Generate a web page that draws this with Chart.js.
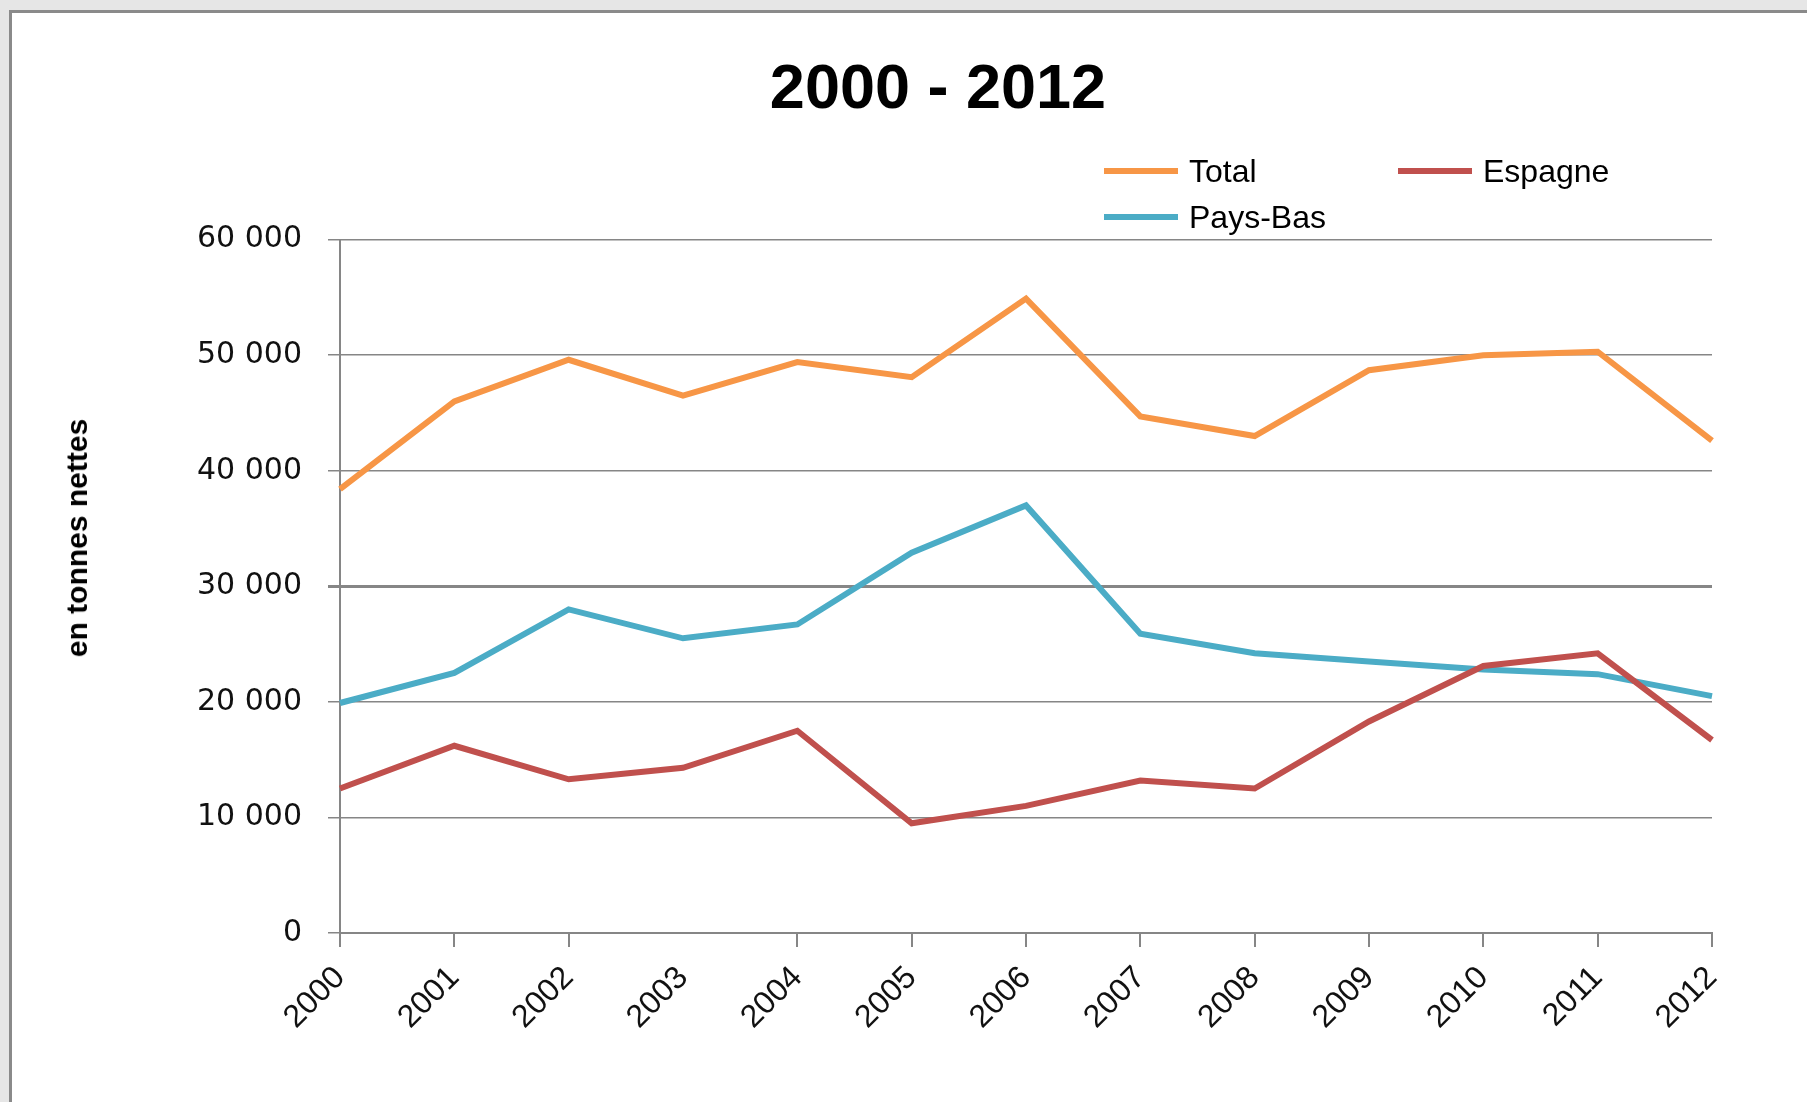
<!DOCTYPE html>
<html>
<head>
<meta charset="utf-8">
<script src="https://cdn.jsdelivr.net/npm/chart.js@4/dist/chart.umd.min.js"></script>
<style>
  html, body { margin: 0; padding: 0; }
  body { width: 1807px; height: 1102px; background: #e6e6e6; position: relative; overflow: hidden; }
  #panel { position: absolute; left: 9px; top: 10px; right: -5px; bottom: -5px; background: #fff;
           border-left: 3px solid #8a8a8a; border-top: 3px solid #8a8a8a; }
  #wrap { position: absolute; left: 0; top: 0; width: 1807px; height: 1102px; }
  #legend { position: absolute; left: 1104px; top: 150px; display: grid;
            grid-template-columns: 294px 220px; row-gap: 4px;
            font-family: "Liberation Sans", Arial, sans-serif; font-size: 32px; color: #000; }
  .item { display: flex; align-items: center; height: 42px; }
  .swatch { width: 74px; height: 6px; margin-right: 11px; }
  #ytitle { position: absolute; left: 77px; top: 538px; transform: translate(-50%, -50%) rotate(-90deg);
            white-space: nowrap; font-family: "Liberation Sans", Arial, sans-serif; font-weight: bold;
            font-size: 30px; color: #000; }
</style>
</head>
<body>
<div id="panel"></div>
<div id="wrap"><canvas id="chart" width="1807" height="1102"></canvas></div>
<div id="legend"></div>
<div id="ytitle">en tonnes nettes</div>
<script>
// data
const years = ['2000', '2001', '2002', '2003', '2004', '2005', '2006', '2007', '2008', '2009', '2010', '2011', '2012'];
const total = [38400, 46000, 49600, 46500, 49400, 48100, 54900, 44700, 43000, 48700, 50000, 50300, 42600];
const espagne = [12500, 16200, 13300, 14300, 17500, 9500, 11000, 13200, 12500, 18300, 23100, 24200, 16700];
const paysBas = [19900, 22500, 28000, 25500, 26700, 32900, 37000, 25900, 24200, 23500, 22800, 22400, 20500];
const seriesNames = ['Total', 'Espagne', 'Pays-Bas'];
const seriesColors = ['#F79646', '#C0504D', '#4BACC6'];

const gridColor = '#868686';

function fmt(v) {
  return String(v).replace(/\B(?=(\d{3})+(?!\d))/g, ' ');
}

const datasets = [total, espagne, paysBas].map((d, i) => ({
  label: seriesNames[i],
  data: d,
  borderColor: seriesColors[i],
  backgroundColor: seriesColors[i],
  borderWidth: 6,
  pointRadius: 0,
  tension: 0,
  fill: false
}));

// html legend, 2 columns like the original
const legendEl = document.getElementById('legend');
datasets.forEach(ds => {
  const it = document.createElement('div');
  it.className = 'item';
  it.innerHTML = '<span class="swatch" style="background:' + ds.borderColor + '"></span>' + ds.label;
  legendEl.appendChild(it);
});

const ctx = document.getElementById('chart').getContext('2d');
new Chart(ctx, {
  type: 'line',
  data: { labels: years, datasets: datasets },
  options: {
    responsive: false,
    animation: false,
    layout: { padding: { left: 164, right: 95, top: 0, bottom: 49 } },
    plugins: {
      legend: { display: false },
      tooltip: { enabled: false },
      title: {
        display: true,
        text: '2000 - 2012',
        color: '#000',
        font: { family: '"Liberation Sans", Arial, sans-serif', size: 63, weight: 'bold', lineHeight: 1.2 },
        padding: { top: 53, bottom: 111 }
      }
    },
    scales: {
      x: {
        offset: false,
        grid: {
          drawOnChartArea: false,
          drawTicks: true,
          tickLength: 14,
          lineWidth: 2,
          tickColor: c => (c.index === 3 ? 'rgba(0,0,0,0)' : gridColor)
        },
        border: { color: gridColor, width: 2 },
        ticks: {
          color: '#111',
          minRotation: 45,
          maxRotation: 45,
          padding: 12,
          autoSkip: false,
          font: { family: '"Liberation Sans", Arial, sans-serif', size: 32 }
        },
        afterFit: s => { s.height = 120; }
      },
      y: {
        min: 0,
        max: 60000,
        grid: {
          color: gridColor,
          lineWidth: c => (c.tick && c.tick.value === 30000 ? 3 : 1.5),
          tickLength: 12
        },
        border: { color: gridColor, width: 2 },
        ticks: {
          stepSize: 10000,
          color: '#111',
          padding: 26,
          font: { family: '"DejaVu Sans", Verdana, sans-serif', size: 30, lineHeight: 1.0 },
          callback: v => fmt(v)
        },
        afterFit: s => { s.width = 176; }
      }
    }
  }
});
</script>
</body>
</html>
